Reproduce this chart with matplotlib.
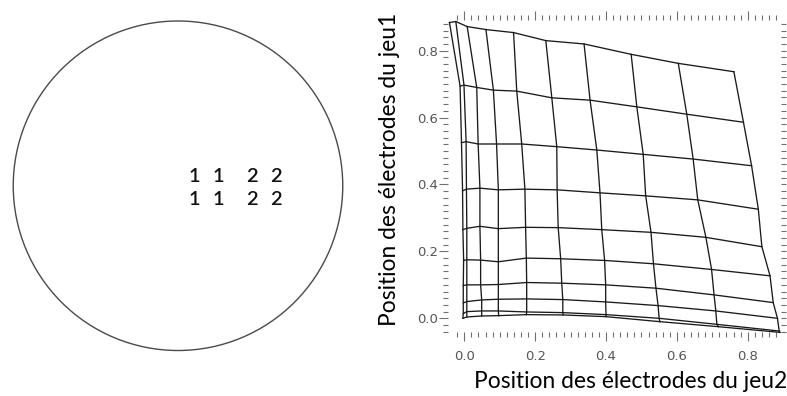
import numpy as np
import matplotlib
matplotlib.use("Agg")
import matplotlib.pyplot as plt
from matplotlib.patches import Circle
from matplotlib.ticker import MultipleLocator, FixedLocator, FormatStrFormatter

# ---------------- data ----------------
# electrode labels inside the circular domain (unit-disk coordinates)
electrode_sets = ["1", "1", "2", "2"]
electrode_x = [0.101, 0.244, 0.448, 0.592]
electrode_y = [0.059, -0.083]

# distorted mesh: mesh_x[row][col], mesh_y[row][col]  (row 0 = bottom)
mesh_x = [
    [-0.004, 0.007, 0.049, 0.097, 0.175, 0.279, 0.400, 0.552, 0.717, 0.891],
    [-0.003, 0.007, 0.049, 0.096, 0.176, 0.278, 0.400, 0.550, 0.713, 0.889],
    [-0.003, 0.007, 0.049, 0.096, 0.176, 0.278, 0.399, 0.547, 0.710, 0.884],
    [-0.003, 0.007, 0.046, 0.096, 0.176, 0.275, 0.399, 0.541, 0.705, 0.872],
    [-0.002, 0.007, 0.046, 0.096, 0.175, 0.272, 0.396, 0.534, 0.698, 0.863],
    [-0.004, 0.007, 0.044, 0.096, 0.173, 0.265, 0.388, 0.527, 0.682, 0.840],
    [-0.005, 0.006, 0.044, 0.096, 0.171, 0.262, 0.383, 0.512, 0.659, 0.830],
    [-0.008, 0.005, 0.039, 0.091, 0.162, 0.261, 0.374, 0.505, 0.646, 0.811],
    [-0.012, -0.001, 0.035, 0.082, 0.148, 0.247, 0.355, 0.487, 0.628, 0.788],
    [-0.042, -0.024, 0.008, 0.061, 0.139, 0.230, 0.338, 0.471, 0.604, 0.761],
]
mesh_y = [
    [0.000, 0.004, 0.007, 0.008, 0.011, 0.010, 0.005, -0.010, -0.025, -0.042],
    [0.014, 0.020, 0.022, 0.022, 0.019, 0.017, 0.011, 0.000, -0.018, -0.038],
    [0.046, 0.050, 0.055, 0.057, 0.058, 0.056, 0.049, 0.038, 0.022, 0.000],
    [0.098, 0.100, 0.100, 0.101, 0.107, 0.105, 0.100, 0.090, 0.070, 0.047],
    [0.173, 0.175, 0.174, 0.169, 0.180, 0.178, 0.173, 0.163, 0.146, 0.127],
    [0.265, 0.269, 0.275, 0.268, 0.272, 0.271, 0.265, 0.257, 0.242, 0.214],
    [0.381, 0.386, 0.389, 0.384, 0.386, 0.384, 0.375, 0.366, 0.354, 0.326],
    [0.525, 0.528, 0.521, 0.521, 0.521, 0.513, 0.503, 0.490, 0.476, 0.456],
    [0.694, 0.697, 0.690, 0.682, 0.679, 0.659, 0.652, 0.632, 0.610, 0.586],
    [0.884, 0.887, 0.872, 0.863, 0.854, 0.830, 0.820, 0.789, 0.762, 0.737],
]
xlabel = "Position des électrodes du jeu2"
ylabel = "Position des électrodes du jeu1"

# ---------------- figure ----------------
W, H = 787, 396
fig = plt.figure(figsize=(W / 100, H / 100), dpi=100)

# left panel: circular domain
axc = fig.add_axes([12.75 / W, 1 - 351 / H, 330.5 / W, 330.5 / H])
axc.set_xlim(-1, 1)
axc.set_ylim(-1, 1)
axc.set_aspect("equal")
axc.axis("off")
axc.add_patch(Circle((0, 0), 0.997, fill=False, ec="#4a4a4a", lw=1.0, clip_on=False))
for yy in electrode_y:
    for xx, lab in zip(electrode_x, electrode_sets):
        axc.text(xx, yy, lab, ha="center", va="center", fontsize=14.5,
                 family="Lato", fontweight="semibold", color="#111111")

# right panel: mesh
ax = fig.add_axes([448 / W, 1 - 332 / H, 332.5 / W, 312 / H])
mx = np.array(mesh_x)
my = np.array(mesh_y)
lc = "#1a1a1a"
for j in range(mx.shape[0]):
    ax.plot(mx[j], my[j], color=lc, lw=0.95, clip_on=False)
for i in range(mx.shape[1]):
    ax.plot(mx[:, i], my[:, i], color=lc, lw=0.95, clip_on=False)

ax.set_xlim(-0.0461, 0.8926)
ax.set_ylim(-0.0409, 0.8916)
for s in ax.spines.values():
    s.set_visible(False)

ax.xaxis.set_major_locator(MultipleLocator(0.2))
ax.yaxis.set_major_locator(MultipleLocator(0.2))
ax.xaxis.set_minor_locator(FixedLocator(np.arange(-0.02, 0.90, 0.02)))
ax.yaxis.set_minor_locator(FixedLocator(np.arange(-0.04, 0.89, 0.02)))
ax.xaxis.set_major_formatter(FormatStrFormatter("%.1f"))
ax.yaxis.set_major_formatter(FormatStrFormatter("%.1f"))

tc = "#707070"
ax.tick_params(which="both", direction="out", top=True, right=True,
               labeltop=False, labelright=False, color=tc, width=0.8)
ax.tick_params(which="major", length=6.5, labelsize=9.5, labelcolor="#555555")
ax.tick_params(which="minor", length=3.5)
ax.tick_params(axis="x", which="major", pad=6.5)
ax.tick_params(axis="y", which="major", pad=0.8)

fig.canvas.draw()
for t in ax.yaxis.get_major_ticks():
    t.tick2line.set_markersize(3.5)

ax.set_xlabel(xlabel, family="Lato", fontsize=16.4, color="black")
ax.xaxis.label.set_va("center")
ax.xaxis.set_label_coords((630.5 - 448) / 332.5, (332 - 381.7) / 312)
ax.set_ylabel(ylabel, family="Lato", fontsize=16.4, color="black")
ax.yaxis.label.set_va("center")
ax.yaxis.set_label_coords((390 - 448) / 332.5, (332 - 169) / 312)

fig.savefig("out.png", dpi=100)
